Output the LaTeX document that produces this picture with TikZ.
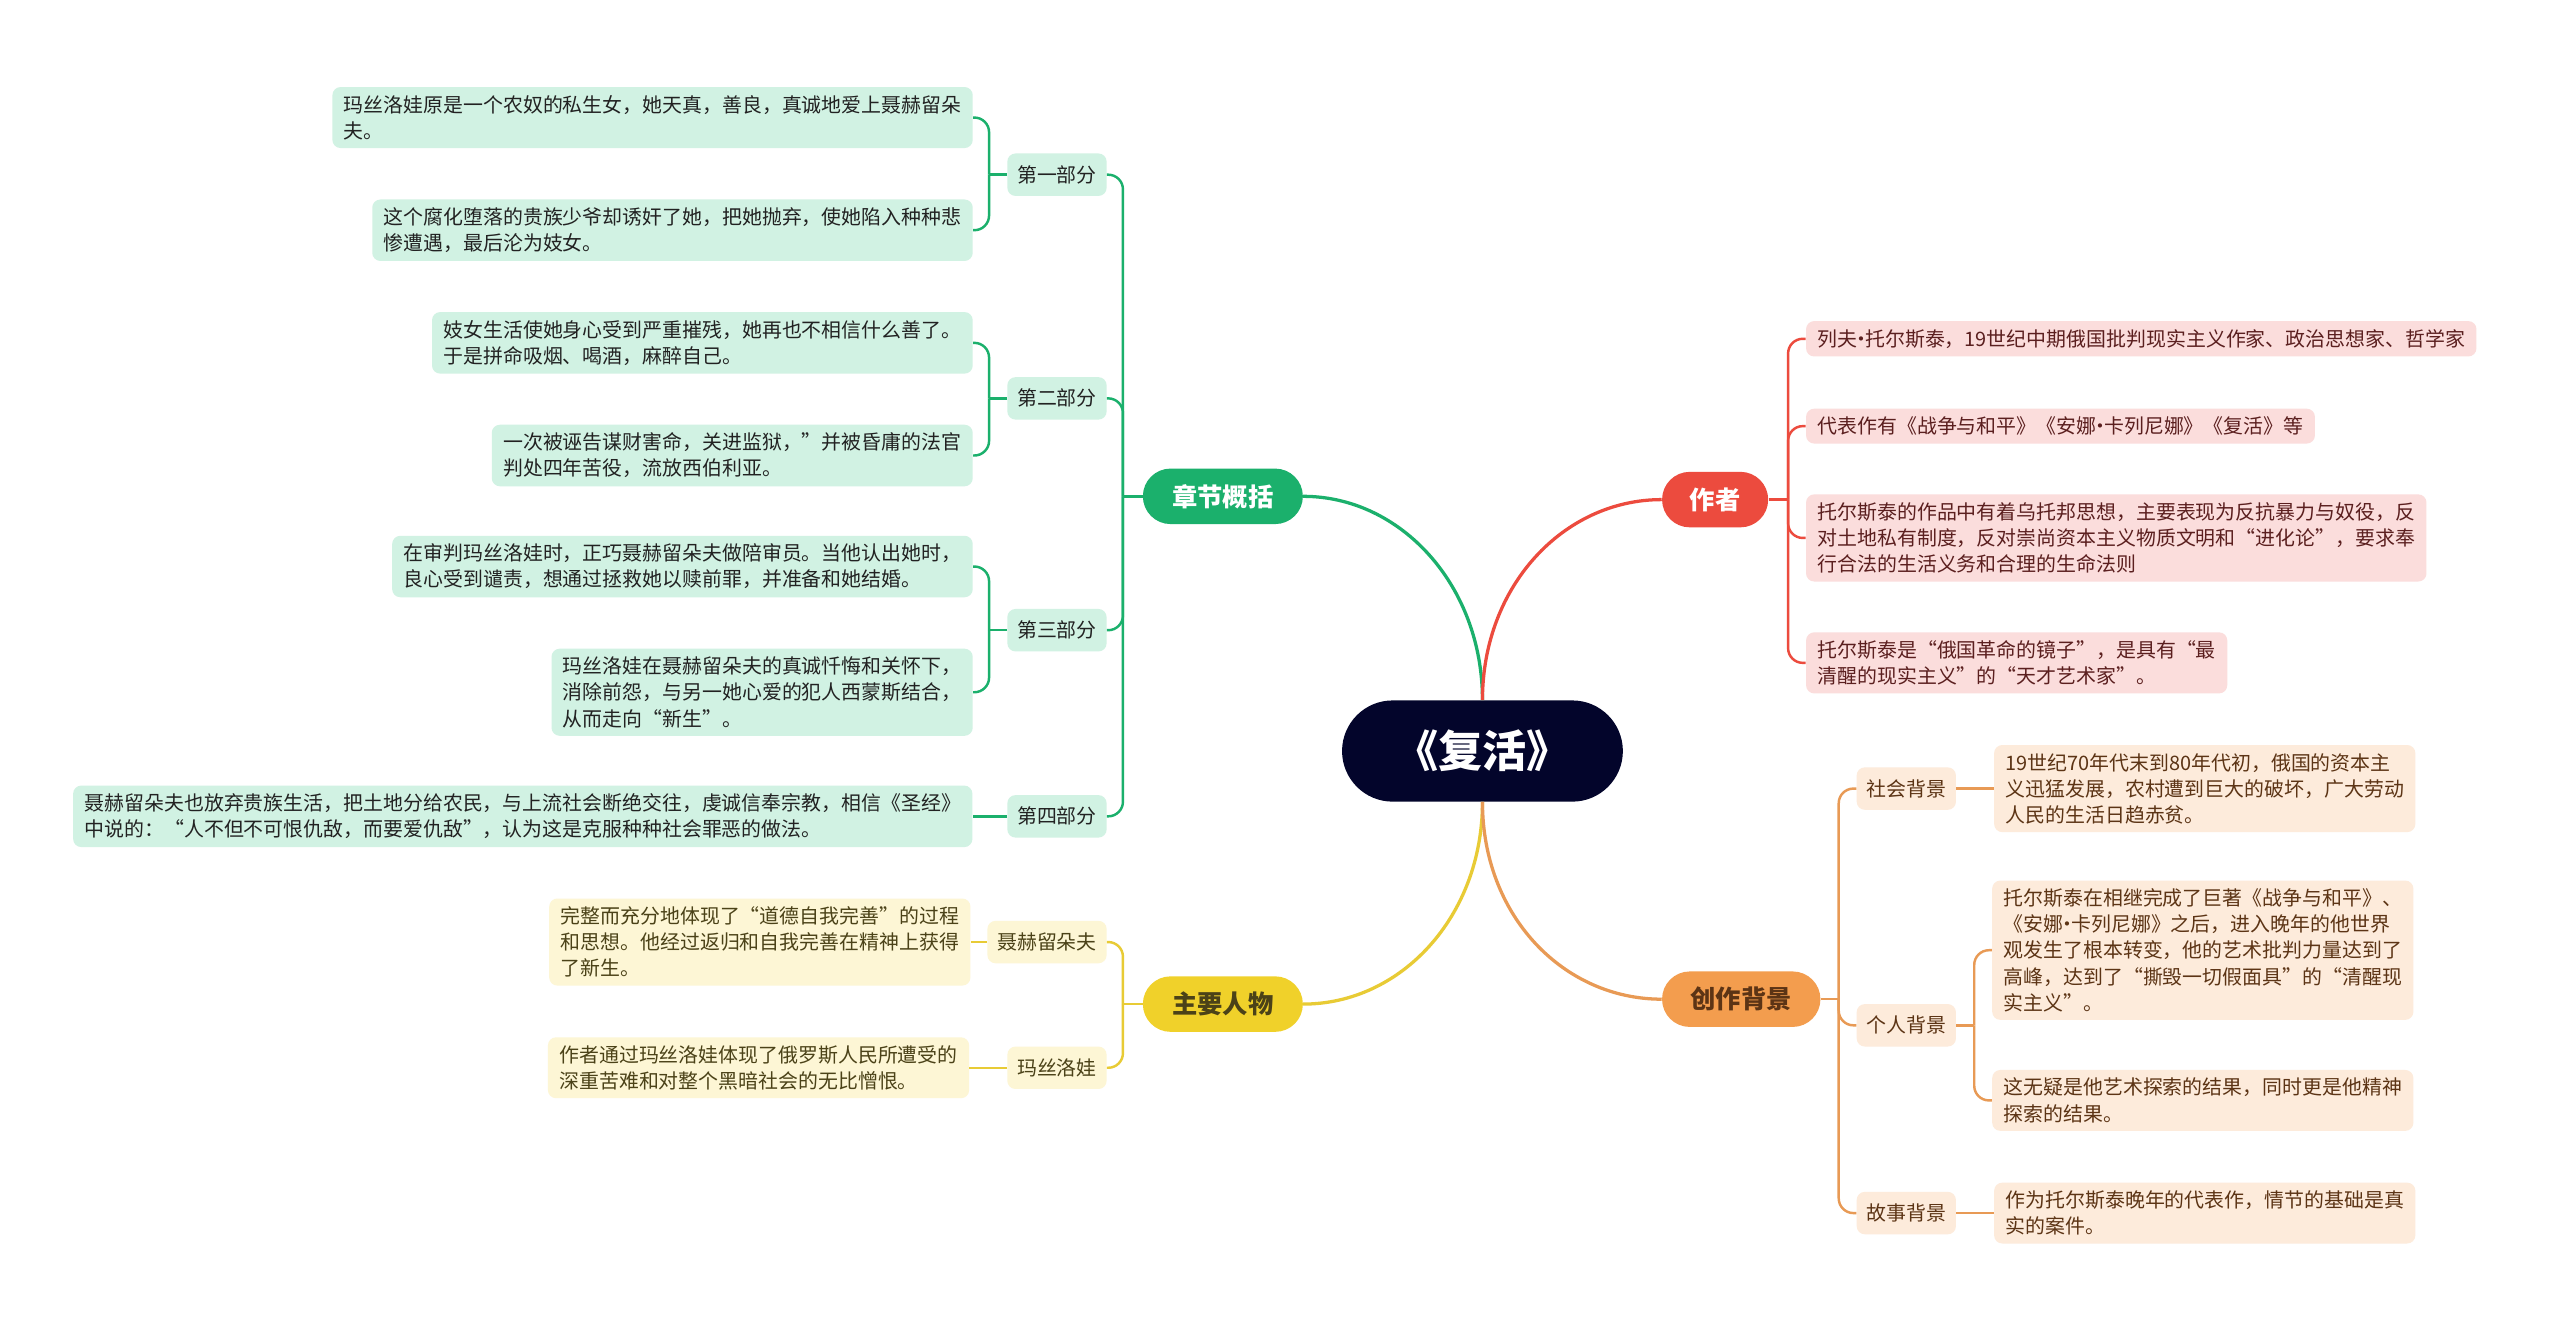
\documentclass[tikz,border=0pt]{standalone}
\usepackage{fontspec}
\setmainfont{Noto Sans CJK SC}
\usepackage{tikz}
\usetikzlibrary{positioning}

\definecolor{rootnavy}{HTML}{03052B}
\definecolor{zjgreen}{HTML}{1BB06C}
\definecolor{zjleaf}{HTML}{D1F2E3}
\definecolor{zjdark}{HTML}{222222}
\definecolor{zzred}{HTML}{EC4B3E}
\definecolor{zzleaf}{HTML}{FBDDDC}
\definecolor{zzdark}{HTML}{5B1F1F}
\definecolor{rwyellow}{HTML}{F0D12A}
\definecolor{rwline}{HTML}{E8CB35}
\definecolor{rwleaf}{HTML}{FDF6D5}
\definecolor{rwdark}{HTML}{4B4218}
\definecolor{bjorange}{HTML}{F39D4E}
\definecolor{bjline}{HTML}{E89A55}
\definecolor{bjleaf}{HTML}{FDEBDB}
\definecolor{bjdark}{HTML}{5C3415}

% narrow middle dot between name parts
\newcommand{\namedot}{\kern-.3em·\kern-.3em}

\begin{document}
\begin{tikzpicture}[x=1pt, y=-1pt, node distance=10pt,
    every node/.style={font=\fontsize{12.2}{16}\selectfont, inner xsep=7pt, inner ysep=5pt},
    rootbox/.style={fill=rootnavy, text=white, minimum width=172pt, minimum height=62pt, rounded corners=31pt, font=\fontsize{27}{30}\selectfont\bfseries},
    mainbox/.style={minimum height=34pt, rounded corners=17pt, font=\fontsize{15.5}{18}\selectfont\bfseries},
    subbox/.style={minimum height=26pt, inner xsep=6pt, rounded corners=5pt},
    leafbox/.style={align=left, rounded corners=5pt},
    mainline/.style={line width=2pt},
    subline/.style={line width=1.5pt, rounded corners=9pt}]
    \path[use as bounding box, fill=white] (0,0) rectangle (1568,816);

    % Centre
    \node[rootbox] (fuhuo) at (908,460) {《复活》};

    % Main branches
    \node[mainbox, fill=zjgreen, text=white, minimum width=98pt] (zhangjie) at (749,304) {章节概括};
    \node[mainbox, fill=zzred, text=white, minimum width=65pt] (zuozhe) at (1050.5,306) {作者};
    \node[mainbox, fill=rwyellow, text=rwdark, minimum width=98pt] (renwu) at (749,615) {主要人物};
    \node[mainbox, fill=bjorange, text=bjdark, minimum width=97pt] (beijing) at (1066.5,612) {创作背景};

    \draw[zjgreen, mainline] (fuhuo.north) .. controls ([yshift=70pt]fuhuo.north) and ([xshift=60pt]zhangjie.east) .. (zhangjie.east);
    \draw[zzred, mainline] (fuhuo.north) .. controls ([yshift=70pt]fuhuo.north) and ([xshift=-60pt]zuozhe.west) .. (zuozhe.west);
    \draw[rwline, mainline] (fuhuo.south) .. controls ([yshift=-70pt]fuhuo.south) and ([xshift=60pt]renwu.east) .. (renwu.east);
    \draw[bjline, mainline] (fuhuo.south) .. controls ([yshift=-70pt]fuhuo.south) and ([xshift=-60pt]beijing.west) .. (beijing.west);

    % 章节概括
    \node[subbox, fill=zjleaf, text=zjdark, anchor=east] (bufen1) at (678,107) {第一部分};
    \node[subbox, fill=zjleaf, text=zjdark, anchor=east] (bufen2) at (678,244) {第二部分};
    \node[subbox, fill=zjleaf, text=zjdark, anchor=east] (bufen3) at (678,386) {第三部分};
    \node[subbox, fill=zjleaf, text=zjdark, anchor=east] (bufen4) at (678,500) {第四部分};

    \node[leafbox, fill=zjleaf, text=zjdark, anchor=east] (bufen1a) at (596,72) {玛丝洛娃原是一个农奴的私生女，她天真，善良，真诚地爱上聂赫留朵\\夫。};
    \node[leafbox, fill=zjleaf, text=zjdark, anchor=east] (bufen1b) at (596,141) {这个腐化堕落的贵族少爷却诱奸了她，把她抛弃，使她陷入种种悲\\惨遭遇，最后沦为妓女。};
    \node[leafbox, fill=zjleaf, text=zjdark, anchor=east] (bufen2a) at (596,210) {妓女生活使她身心受到严重摧残，她再也不相信什么善了。\\于是拼命吸烟、喝酒，麻醉自己。};
    \node[leafbox, fill=zjleaf, text=zjdark, anchor=east] (bufen2b) at (596,279) {一次被诬告谋财害命，关进监狱，”并被昏庸的法官\\判处四年苦役，流放西伯利亚。};
    \node[leafbox, fill=zjleaf, text=zjdark, anchor=east] (bufen3a) at (596,347) {在审判玛丝洛娃时，正巧聂赫留朵夫做陪审员。当他认出她时，\\良心受到谴责，想通过拯救她以赎前罪，并准备和她结婚。};
    \node[leafbox, fill=zjleaf, text=zjdark, anchor=east] (bufen3b) at (596,424) {玛丝洛娃在聂赫留朵夫的真诚忏悔和关怀下，\\消除前怨，与另一她心爱的犯人西蒙斯结合，\\从而走向“新生”。};
    \node[leafbox, fill=zjleaf, text=zjdark, left=21pt of bufen4] (bufen4a) {聂赫留朵夫也放弃贵族生活，把土地分给农民，与上流社会断绝交往，虔诚信奉宗教，相信《圣经》\\中说的：“人不但不可恨仇敌，而要爱仇敌”，认为这是克服种种社会罪恶的做法。};

    \coordinate (zjtrunk) at ([xshift=-12pt]zhangjie.west);
    \draw[zjgreen, subline] (zhangjie.west) -- (zjtrunk);
    \foreach \b in {bufen1,bufen2,bufen3,bufen4}
        \draw[zjgreen, subline] (zjtrunk) |- (\b.east);
    \foreach \b in {bufen1,bufen2,bufen3} {
        \coordinate (\b trunk) at ([xshift=-11pt]\b.west);
        \draw[zjgreen, subline] (\b.west) -- (\b trunk);
        \draw[zjgreen, subline] (\b trunk) |- (\b a.east);
        \draw[zjgreen, subline] (\b trunk) |- (\b b.east);
    }
    \draw[zjgreen, subline] (bufen4.west) -- (bufen4a.east);

    % 作者
    \node[leafbox, fill=zzleaf, text=zzdark, anchor=west] (zuozhe1) at (1106,207.5) {列夫\namedot 托尔斯泰，19世纪中期俄国批判现实主义作家、政治思想家、哲学家};
    \node[leafbox, fill=zzleaf, text=zzdark, anchor=west] (zuozhe2) at (1106,261) {代表作有《战争与和平》《安娜\namedot 卡列尼娜》《复活》等};
    \node[leafbox, fill=zzleaf, text=zzdark, anchor=west] (zuozhe3) at (1106,329.5) {托尔斯泰的作品中有着乌托邦思想，主要表现为反抗暴力与奴役，反\\对土地私有制度，反对崇尚资本主义物质文明和“进化论”，要求奉\\行合法的生活义务和合理的生命法则};
    \node[leafbox, fill=zzleaf, text=zzdark, anchor=west] (zuozhe4) at (1106,406) {托尔斯泰是“俄国革命的镜子”，是具有“最\\清醒的现实主义”的“天才艺术家”。};

    \coordinate (zztrunk) at ([xshift=12pt]zuozhe.east);
    \draw[zzred, subline] (zuozhe.east) -- (zztrunk);
    \foreach \n in {1,...,4}
        \draw[zzred, subline] (zztrunk) |- (zuozhe\n.west);

    % 主要人物
    \node[subbox, fill=rwleaf, text=rwdark, anchor=east] (nhl) at (678,577) {聂赫留朵夫};
    \node[subbox, fill=rwleaf, text=rwdark, anchor=east] (msl) at (678,654) {玛丝洛娃};
    \node[leafbox, fill=rwleaf, text=rwdark, left=10pt of nhl] (nhla) {完整而充分地体现了“道德自我完善”的过程\\和思想。他经过返归和自我完善在精神上获得\\了新生。};
    \node[leafbox, fill=rwleaf, text=rwdark, left=23pt of msl] (msla) {作者通过玛丝洛娃体现了俄罗斯人民所遭受的\\深重苦难和对整个黑暗社会的无比憎恨。};

    \coordinate (rwtrunk) at ([xshift=-12pt]renwu.west);
    \draw[rwline, subline] (renwu.west) -- (rwtrunk);
    \draw[rwline, subline] (rwtrunk) |- (nhl.east);
    \draw[rwline, subline] (rwtrunk) |- (msl.east);
    \draw[rwline, subline] (nhl.west) -- (nhla.east);
    \draw[rwline, subline] (msl.west) -- (msla.east);

    % 创作背景
    \node[subbox, fill=bjleaf, text=bjdark, anchor=west] (shbj) at (1137,483) {社会背景};
    \node[subbox, fill=bjleaf, text=bjdark, anchor=west] (grbj) at (1137,628) {个人背景};
    \node[subbox, fill=bjleaf, text=bjdark, anchor=west] (gsbj) at (1137,743) {故事背景};
    \node[leafbox, fill=bjleaf, text=bjdark, right=23pt of shbj] (shbja) {19世纪70年代末到80年代初，俄国的资本主\\义迅猛发展，农村遭到巨大的破坏，广大劳动\\人民的生活日趋赤贫。};
    \node[leafbox, fill=bjleaf, text=bjdark, anchor=west] (grbja) at (1220,582) {托尔斯泰在相继完成了巨著《战争与和平》、\\《安娜\namedot 卡列尼娜》之后，进入晚年的他世界\\观发生了根本转变，他的艺术批判力量达到了\\高峰，达到了“撕毁一切假面具”的“清醒现\\实主义”。};
    \node[leafbox, fill=bjleaf, text=bjdark, anchor=west] (grbjb) at (1220,674) {这无疑是他艺术探索的结果，同时更是他精神\\探索的结果。};
    \node[leafbox, fill=bjleaf, text=bjdark, right=23pt of gsbj] (gsbja) {作为托尔斯泰晚年的代表作，情节的基础是真\\实的案件。};

    \coordinate (bjtrunk) at ([xshift=11pt]beijing.east);
    \draw[bjline, subline] (beijing.east) -- (bjtrunk);
    \foreach \b in {shbj,grbj,gsbj}
        \draw[bjline, subline] (bjtrunk) |- (\b.west);
    \coordinate (grtrunk) at ([xshift=11pt]grbj.east);
    \draw[bjline, subline] (grbj.east) -- (grtrunk);
    \draw[bjline, subline] (grtrunk) |- (grbja.west);
    \draw[bjline, subline] (grtrunk) |- (grbjb.west);
    \draw[bjline, subline] (shbj.east) -- (shbja.west);
    \draw[bjline, subline] (gsbj.east) -- (gsbja.west);
\end{tikzpicture}
\end{document}
